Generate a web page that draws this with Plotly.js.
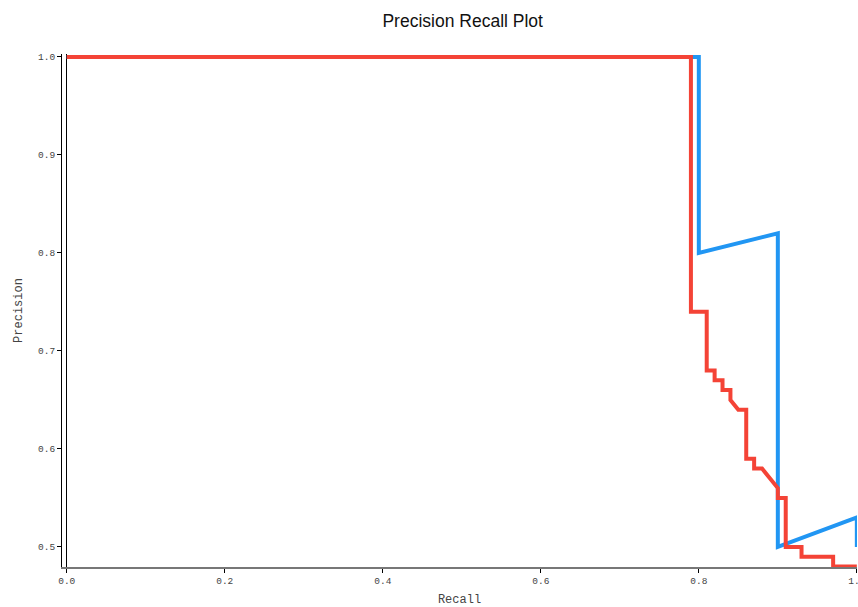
<!DOCTYPE html>
<html>
<head>
<meta charset="utf-8">
<script src="https://cdn.plot.ly/plotly-3.0.1.min.js"></script>
<style>html,body{margin:0;padding:0;background:#fff;}#chart{width:858px;height:607px;}</style>
</head>
<body>
<div id="chart"></div>
<script>
var blueRecall = [0, 0.8, 0.8, 0.9, 0.9, 1.0, 1.0];
var bluePrecision = [1.0, 1.0, 0.8, 0.82, 0.5, 0.53, 0.5];

var redRecall = [0, 0.79, 0.79, 0.81, 0.81, 0.82, 0.82, 0.83, 0.83, 0.84, 0.84, 0.85, 0.86, 0.86, 0.87, 0.87, 0.88, 0.90, 0.90, 0.91, 0.91, 0.93, 0.93, 0.97, 0.97, 1.0];
var redPrecision = [1.0, 1.0, 0.74, 0.74, 0.68, 0.68, 0.67, 0.67, 0.66, 0.66, 0.65, 0.64, 0.64, 0.59, 0.59, 0.58, 0.58, 0.56, 0.55, 0.55, 0.50, 0.50, 0.49, 0.49, 0.48, 0.48];

var tickVals = [0, 0.2, 0.4, 0.6, 0.8, 1.0];
var tickText = ['0.0', '0.2', '0.4', '0.6', '0.8', '1.0'];
var yTickVals = [0.5, 0.6, 0.7, 0.8, 0.9, 1.0];
var yTickText = ['0.5', '0.6', '0.7', '0.8', '0.9', '1.0'];

var traces = [
  {x: blueRecall, y: bluePrecision, mode: 'lines', line: {color: '#2196F3', width: 4}, showlegend: false, hoverinfo: 'none'},
  {x: redRecall, y: redPrecision, mode: 'lines', line: {color: '#F44336', width: 4}, showlegend: false, hoverinfo: 'none'}
];

var monoFont = {family: '"Courier New", "Liberation Mono", monospace', size: 9.5, color: '#444'};

var layout = {
  width: 858, height: 607,
  margin: {l: 62, r: 1, t: 54, b: 40, pad: 0},
  paper_bgcolor: '#fff', plot_bgcolor: '#fff',
  title: {text: 'Precision Recall Plot', font: {family: 'Liberation Sans, Arial, sans-serif', size: 17.5, color: '#111'}, x: 0.504, xref: 'paper', y: 0.966, yref: 'container', yanchor: 'middle'},
  showlegend: false,
  xaxis: {
    range: [-0.006, 1.0002], showgrid: false,
    zeroline: true, zerolinecolor: '#000', zerolinewidth: 1,
    showline: true, linecolor: '#777', linewidth: 2,
    ticks: 'outside', ticklen: 4, tickcolor: '#000', tickwidth: 1,
    tickvals: tickVals, ticktext: tickText, tickfont: monoFont, ticklabeloverflow: 'allow',
    title: {text: 'Recall', font: {family: '"Courier New", "Liberation Mono", monospace', size: 12, color: '#444'}, standoff: 12}
  },
  yaxis: {
    range: [0.4795, 1.003], showgrid: false, zeroline: false,
    showline: true, linecolor: '#000', linewidth: 1,
    ticks: 'outside', ticklen: 4, tickcolor: '#000', tickwidth: 1,
    tickvals: yTickVals, ticktext: yTickText, tickfont: monoFont,
    title: {text: 'Precision', font: {family: '"Courier New", "Liberation Mono", monospace', size: 12, color: '#444'}, standoff: 12}
  }
};

Plotly.newPlot('chart', traces, layout, {staticPlot: true, displayModeBar: false});
</script>
</body>
</html>
